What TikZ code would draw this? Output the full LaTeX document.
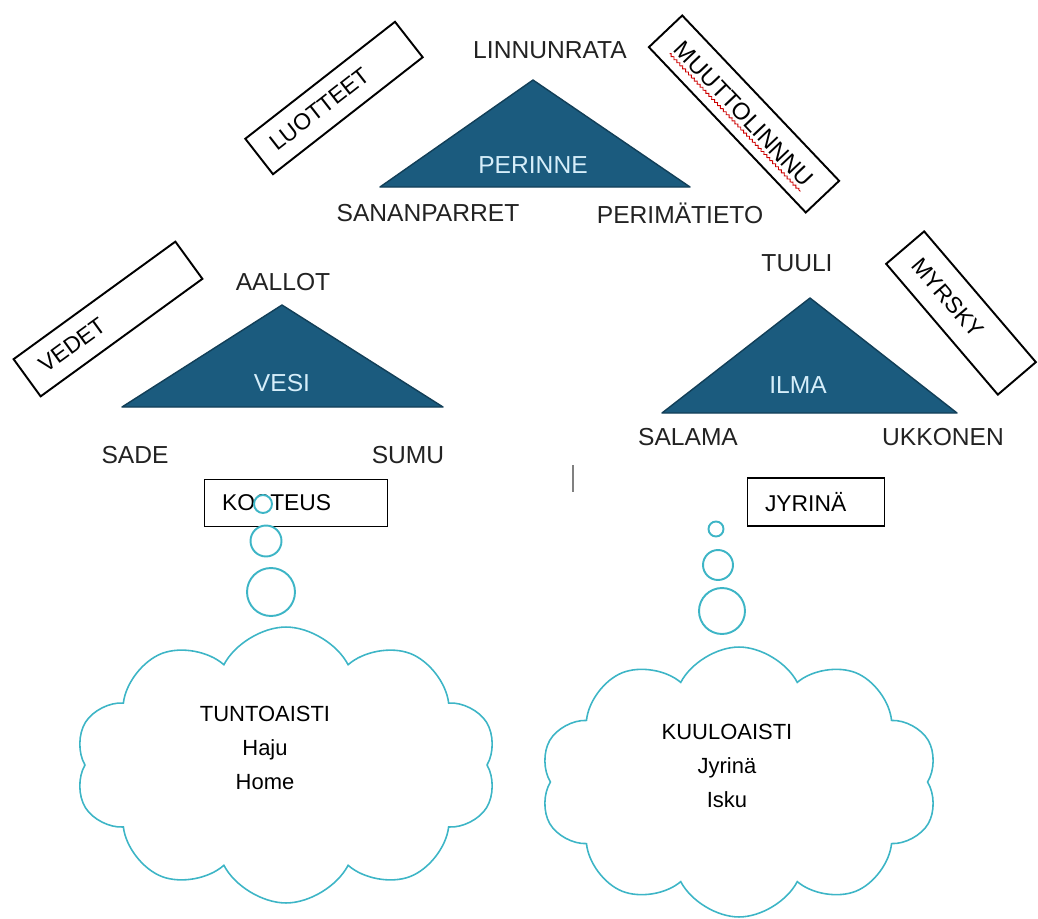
\documentclass[tikz,border=0pt]{standalone}
\usepackage{fontspec}
\setmainfont{Liberation Sans}
\usetikzlibrary{shapes.symbols,calc,decorations.pathmorphing}

\definecolor{perinneblue}{HTML}{1B5B7E}
\definecolor{perinnedark}{HTML}{123F58}
\definecolor{perinnetext}{HTML}{D6EEFA}
\definecolor{cloudteal}{HTML}{3DB5C6}
\definecolor{labelgray}{HTML}{222222}

\tikzset{
	tri/.style={fill=perinneblue, draw=perinnedark, line width=0.8pt, line join=round},
	trilabel/.style={text=perinnetext, font=\fontsize{14}{16}\selectfont},
	corner/.style={text=labelgray, font=\fontsize{14}{16}\selectfont},
	tag/.style={draw=black, line width=1.1pt, font=\fontsize{13}{15}\selectfont, align=left, inner ysep=0pt, inner xsep=0.35cm},
	bubble/.style={circle, draw=cloudteal, fill=white, line width=1.1pt, inner sep=0pt},
	thought/.style={cloud, draw=cloudteal, line width=0.9pt, cloud puffs=10, cloud puff arc=125, cloud ignores aspect},
	sense/.style={font=\fontsize{12.5}{19.3}\selectfont, align=center, text=black}
}

\begin{document}
\begin{tikzpicture}[x=0.02cm, y=-0.02cm]
	\useasboundingbox (0,0) rectangle (1038,919);

	% perinne
	\filldraw[tri] (533,80) -- (380,187) -- (690,187) -- cycle;
	\node[trilabel] (perinne) at (533,165) {PERINNE};
	\node[corner] (linnunrata) at (550,50) {LINNUNRATA};
	\node[corner] (sananparret) at (428,213) {SANANPARRET};
	\node[corner] (perimatieto) at (680,213) {PERIMÄTIETO};
	\node[tag, rotate=38, text width=3.1cm, minimum height=0.9cm] (luotteet) at (334,98) {LUOTTEET};
	\node[draw=black, line width=1.1pt, rotate=-46.5, minimum width=4.56cm, minimum height=0.92cm] (muuttobox) at (744,114) {};
	\node[rotate=-46.5, inner sep=0pt, font=\fontsize{13.5}{15}\selectfont] (muutto) at (744,114) {MUUTTOLINNNU};
	\draw[red!80!black, line width=0.5pt, decorate, decoration={zigzag, amplitude=0.6pt, segment length=2.4pt}]
		($(muutto.base west)!2.4pt!-90:(muutto.base east)$) -- ($(muutto.base east)!2.4pt!90:(muutto.base west)$);

	% vesi
	\filldraw[tri] (282,305) -- (122,407) -- (443,407) -- cycle;
	\node[trilabel] (vesi) at (282,383) {VESI};
	\node[corner] (aallot) at (283,282) {AALLOT};
	\node[corner] (sade) at (135,455) {SADE};
	\node[corner] (sumu) at (408,455) {SUMU};
	\node[tag, rotate=36, text width=3.3cm, minimum height=0.92cm] (vedet) at (108,319) {VEDET};

	% ilma
	\filldraw[tri] (810,298) -- (662,413) -- (957,413) -- cycle;
	\node[trilabel] (ilma) at (798,385) {ILMA};
	\node[corner] (tuuli) at (797,263) {TUULI};
	\node[corner] (salama) at (688,437) {SALAMA};
	\node[corner] (ukkonen) at (943,437) {UKKONEN};
	\node[tag, rotate=-49.5, text width=2.74cm, minimum height=1.0cm] (myrsky) at (961,313) {MYRSKY};

	\draw[gray, line width=0.8pt] (573,465) -- (573,492);

	% kosteus
	\node[tag, text width=2.96cm, minimum height=0.94cm] (kosteus) at (296,503) {KOSTEUS};
	\node[bubble, minimum size=0.36cm] (kb1) at (263,504) {};
	\node[bubble, minimum size=0.62cm] (kb2) at (266,541) {};
	\node[bubble, minimum size=0.96cm] (kb3) at (271,592) {};
	\node[thought, minimum width=8.44cm, minimum height=5.52cm] (kcloud) at (286,765) {};
	\node[sense] (tunto) at (265,748) {TUNTOAISTI\\Haju\\Home};

	% jyrina
	\node[tag, text width=2.04cm, minimum height=0.96cm] (jyrina) at (816,502) {JYRINÄ};
	\node[bubble, minimum size=0.3cm] (jb1) at (716,529) {};
	\node[bubble, minimum size=0.6cm] (jb2) at (718,565) {};
	\node[bubble, minimum size=0.92cm] (jb3) at (722,611) {};
	\node[thought, minimum width=7.96cm, minimum height=5.4cm] (jcloud) at (739,782) {};
	\node[sense] (kuulo) at (727,766) {KUULOAISTI\\Jyrinä\\Isku};
\end{tikzpicture}
\end{document}
